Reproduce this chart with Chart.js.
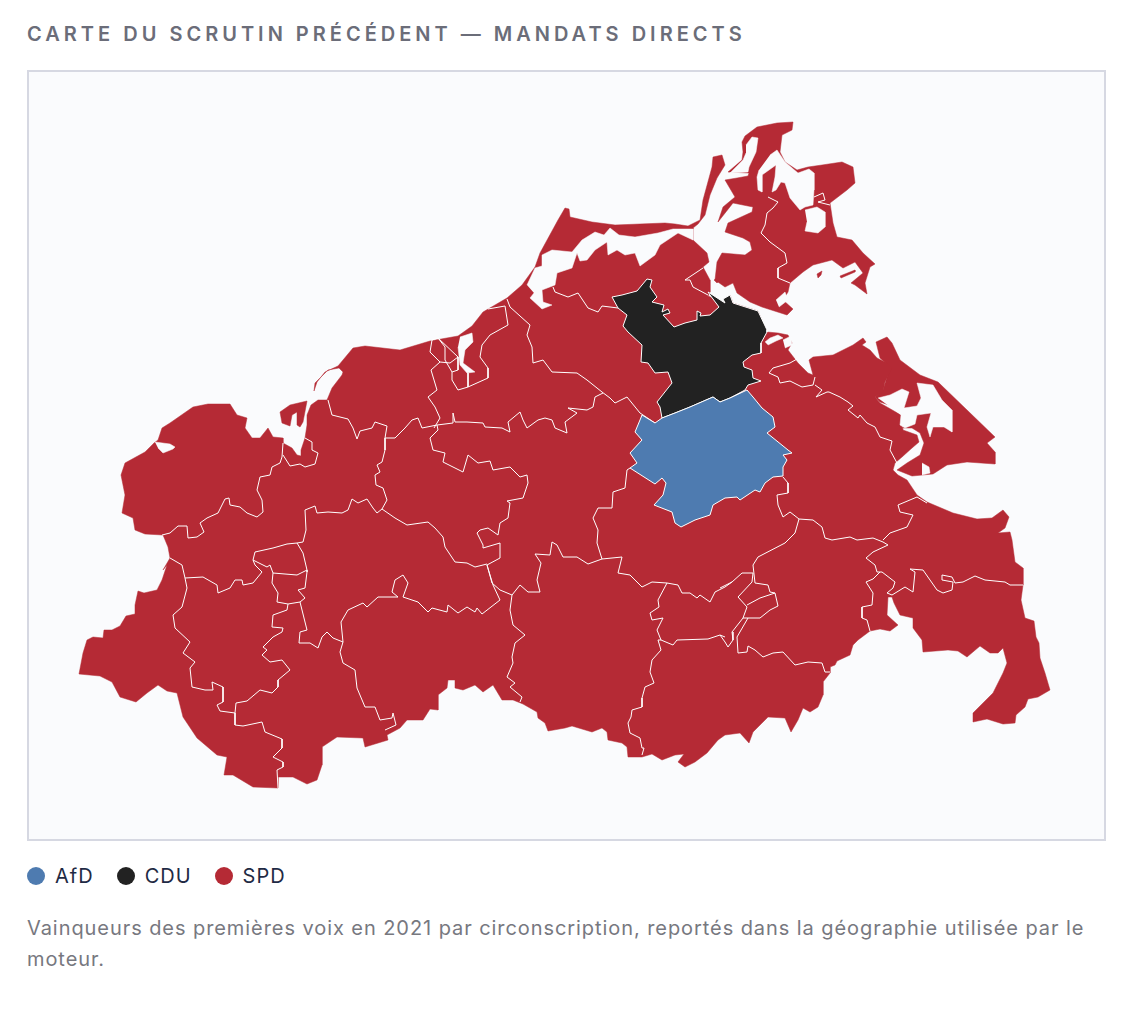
<!DOCTYPE html>
<html lang="fr">
<head>
  <meta charset="UTF-8" />
  <title>Carte du scrutin précédent</title>
  <script src="https://cdn.jsdelivr.net/npm/chart.js"></script>
  <style>
    body { margin: 0; background: #fff; font-family: Inter, "Open Sans", sans-serif; }
    .wrap { position: relative; width: 1140px; height: 1010px; }
    h2 {
      position: absolute; left: 27px; top: 21px; margin: 0;
      font-size: 20px; line-height: 26px; font-weight: 600; letter-spacing: 4px; color: #6b6d79; white-space: nowrap;
    }
    .frame {
      position: absolute; left: 27px; top: 70px; width: 1075px; height: 767px;
      border: 2px solid #d6d8e2; background: #fafbfd;
    }
    #legend { position: absolute; left: 27px; top: 864px; display: flex; font-size: 20px; line-height: 24px; letter-spacing: 1px; color: #1f2a44; }
    #legend span.item { display: flex; align-items: center; margin-right: 23px; }
    #legend i { width: 18px; height: 18px; border-radius: 50%; margin-right: 10px; display: block; }
    p {
      position: absolute; left: 27px; top: 913px; width: 1080px; margin: 0;
      font-size: 20px; line-height: 31px; color: #77787f; letter-spacing: 0.93px;
    }
  </style>
</head>
<body>
  <div class="wrap">
    <h2>CARTE DU SCRUTIN PRÉCÉDENT — MANDATS DIRECTS</h2>
    <div class="frame"><canvas id="map" width="1075" height="767"></canvas></div>
    <div id="legend"></div>
    <p>Vainqueurs des premières voix en 2021 par circonscription, reportés dans la géographie utilisée par le moteur.</p>
  </div>

  <script>
    const parties = ['AfD', 'CDU', 'SPD'];
    const partyColors = ['#4e7bb0', '#222222', '#b52a35'];
    const waterColor = '#fafbfd';

    // Map outlines (map units)
    const mainland = [[79,674],[83,653],[87,640],[93,637],[103,638],[104,630],[112,630],[120,626],[126,616],[135,614],[135,605],[138,591],[144,593],[157,590],[162,580],[167,565],[163,570],[170,558],[168,547],[163,535],[145,534],[135,530],[133,518],[122,513],[125,495],[121,475],[125,463],[145,452],[154,443],[158,440],[162,428],[170,423],[193,407],[208,404],[230,404],[237,415],[247,418],[245,428],[252,438],[260,438],[268,428],[273,437],[283,438],[283,443],[292,448],[297,455],[301,456],[301,450],[305,438],[307,425],[307,415],[311,405],[318,400],[327,400],[332,388],[342,375],[343,372],[339,368],[328,370],[319,379],[315,383],[314,391],[317,382],[325,372],[338,366],[353,348],[365,346],[400,350],[410,347],[430,341],[458,336],[472,326],[483,312],[507,298],[522,285],[535,267],[540,253],[558,220],[565,208],[569,209],[570,217],[592,222],[615,225],[665,223],[675,224],[688,226],[700,220],[703,200],[712,167],[713,157],[722,155],[725,165],[717,178],[710,195],[705,215],[698,224],[693,228],[693,240],[707,253],[709,262],[703,267],[710,280],[710,292],[708,296],[725,303],[730,295],[733,303],[758,311],[767,332],[778,333],[788,335],[792,343],[788,350],[798,363],[808,373],[813,375],[809,360],[813,357],[833,355],[853,345],[863,338],[866,342],[862,345],[870,350],[877,358],[887,363],[892,368],[885,382],[883,392],[875,397],[880,403],[901,415],[903,430],[917,435],[919,442],[912,448],[902,457],[895,463],[893,470],[898,475],[907,480],[917,495],[927,502],[953,513],[977,519],[992,518],[1003,510],[1009,517],[1005,528],[998,533],[1010,532],[1012,540],[1015,562],[1023,568],[1023,585],[1021,600],[1025,618],[1034,621],[1036,637],[1039,643],[1040,658],[1045,673],[1050,690],[1038,697],[1028,699],[1025,707],[1016,715],[1015,723],[1003,724],[987,719],[973,722],[973,713],[993,693],[1003,673],[1007,663],[1003,648],[998,653],[990,653],[980,646],[967,657],[958,651],[948,650],[923,652],[922,640],[913,628],[913,618],[900,615],[894,603],[892,597],[888,597],[887,615],[898,625],[890,631],[880,629],[870,631],[858,640],[853,645],[850,655],[837,661],[835,665],[830,667],[830,673],[823,682],[823,695],[818,707],[810,712],[803,708],[798,720],[791,732],[785,718],[768,717],[753,732],[749,743],[740,733],[725,735],[718,740],[707,753],[695,762],[685,767],[678,762],[684,754],[675,755],[662,760],[652,754],[642,757],[628,757],[627,747],[622,743],[608,740],[607,732],[602,728],[592,732],[572,726],[565,728],[548,731],[545,723],[538,718],[537,712],[523,704],[513,700],[502,700],[493,685],[483,692],[475,685],[463,690],[455,688],[455,680],[448,680],[447,688],[438,695],[438,710],[430,709],[423,720],[407,720],[400,728],[387,735],[388,740],[365,747],[363,738],[337,737],[322,747],[322,765],[317,780],[307,784],[293,777],[278,777],[278,788],[253,787],[233,775],[224,775],[227,757],[217,755],[197,738],[183,717],[177,693],[167,691],[158,685],[147,693],[136,702],[120,697],[112,682],[100,676],[79,674]];
    const ruegen = [[742,142],[745,136],[757,127],[777,123],[793,122],[792,130],[782,135],[780,152],[785,162],[797,170],[808,167],[822,165],[842,162],[853,167],[855,183],[847,190],[830,203],[833,223],[837,237],[852,240],[863,253],[875,264],[870,267],[865,283],[867,294],[855,285],[851,283],[863,273],[855,262],[843,268],[832,260],[813,265],[803,272],[790,283],[788,292],[783,300],[793,309],[787,315],[762,307],[750,302],[737,293],[733,283],[725,287],[715,280],[717,262],[722,253],[745,255],[752,250],[750,242],[743,238],[725,232],[728,223],[752,212],[753,207],[733,203],[718,222],[723,207],[735,197],[725,180],[737,178],[748,176],[749,173],[728,172],[742,160],[743,152],[742,142]];
    const usedom = [[876,342],[887,337],[892,343],[900,360],[920,375],[938,382],[995,437],[987,443],[995,452],[995,464],[967,462],[947,465],[933,474],[912,476],[897,470],[907,463],[920,455],[924,443],[920,433],[912,428],[903,428],[904,410],[880,402],[875,397],[883,390],[887,377],[890,367],[880,358],[876,342]];
    const poel = [[280,412],[290,405],[307,401],[303,422],[300,427],[297,425],[297,412],[292,415],[290,426],[282,423],[280,412]];
    const isletA = [[717,278],[720,280],[717,283],[714,280],[717,278]];
    const isletB = [[840,276],[855,270],[855,272],[841,278],[840,276]];
    const isletC = [[817,274],[822,271],[821,275],[818,278],[817,274]];

    // Lagoons and inlets
    const waterDarss = [[527,285],[535,268],[542,266],[542,255],[552,250],[572,252],[582,240],[595,232],[604,235],[610,228],[619,235],[635,237],[658,233],[673,229],[693,229],[693,240],[678,233],[660,245],[655,255],[640,266],[635,253],[625,255],[617,250],[608,255],[607,242],[595,250],[587,260],[580,261],[577,253],[572,268],[557,273],[555,285],[542,290],[543,302],[552,305],[542,309],[530,298],[534,293]];
    const waterWest = [[155,442],[170,444],[175,447],[173,449],[163,453],[158,448]];
    const waterRerik = [[460,337],[472,333],[473,342],[465,350],[463,363],[475,372],[467,373],[460,365],[458,347]];
    const waterWittow = [[746,145],[752,137],[758,138],[756,152],[749,167],[748,172],[730,173],[743,160],[746,153]];
    const waterJasmund = [[770,155],[777,150],[785,162],[798,173],[809,169],[814,173],[814,190],[813,205],[805,207],[800,210],[790,198],[785,183],[781,182],[776,190],[772,192],[775,177],[776,165],[762,175],[762,192],[758,190],[757,177],[759,170]];
    const waterLake = [[805,210],[817,207],[825,212],[825,227],[818,233],[805,231],[807,222]];
    const waterSouth = [[776,300],[785,292],[788,300],[779,307]];
    const waterPeene = [[878,398],[890,395],[902,389],[909,392],[904,408],[917,406],[921,398],[917,383],[933,385],[942,400],[952,410],[952,432],[944,427],[933,427],[930,437],[927,427],[931,413],[917,415],[915,424],[905,428],[900,425],[901,415]];
    const waterGap = [[922,463],[929,467],[930,473],[922,475]];
    const waterSmallA = [[765,342],[770,338],[778,335],[783,338],[776,341],[768,345]];
    const waterSmallB = [[783,340],[791,336],[792,345],[785,348]];

    // Districts that did not go to the SPD
    const districtAfD = [[640,420],[635,432],[642,440],[630,453],[637,463],[630,468],[655,484],[662,478],[666,483],[663,495],[654,505],[672,512],[675,523],[681,527],[695,520],[710,515],[713,505],[725,498],[737,497],[740,500],[755,490],[760,492],[765,483],[773,477],[783,476],[783,467],[787,460],[783,455],[792,453],[788,450],[767,433],[775,427],[773,417],[762,408],[753,397],[747,390],[730,398],[720,402],[713,397],[690,407],[675,413],[662,418],[655,423],[642,415],[640,420]];
    const districtCDU = [[647,279],[652,280],[650,287],[657,297],[652,302],[664,305],[662,312],[668,309],[670,313],[663,315],[674,327],[685,323],[697,320],[697,311],[701,313],[700,316],[710,315],[719,307],[710,295],[708,292],[725,303],[723,299],[730,295],[733,303],[758,311],[767,330],[767,332],[761,343],[761,353],[752,355],[743,362],[744,367],[752,370],[753,378],[761,381],[748,385],[745,390],[730,398],[720,402],[713,397],[690,407],[675,413],[662,418],[660,407],[657,402],[672,383],[668,372],[655,373],[648,363],[641,362],[642,345],[628,332],[623,326],[627,315],[618,308],[612,297],[622,295],[637,291],[647,279]];

    // Borders between SPD districts
    const borderA = [[283,443],[282,457],[280,463],[272,467],[270,475],[260,477],[257,490],[262,500],[263,512],[257,517],[247,513],[240,507],[230,505],[229,498],[225,499],[218,513],[207,518],[200,523],[204,532],[197,537],[188,538],[187,526],[178,526],[170,533],[162,535]];
    const borderB = [[283,455],[290,466],[300,464],[305,467],[315,464],[318,453],[312,450],[312,442],[305,438]];
    const borderC = [[328,400],[332,415],[340,417],[348,419],[353,428],[357,439],[360,431],[372,428],[375,422],[387,426],[385,438],[385,450],[382,462],[377,465],[380,472],[375,475],[376,485],[383,488],[387,500],[382,509]];
    const borderD = [[297,543],[303,542],[306,530],[305,510],[315,506],[317,513],[328,512],[342,513],[348,510],[352,499],[358,503],[367,499],[373,508],[377,513],[382,509],[395,518],[407,525],[428,522],[435,528],[443,537],[445,547],[455,562],[467,563],[475,567],[487,564]];
    const borderE = [[170,558],[182,565],[185,578],[187,588],[182,607],[173,615],[175,628],[190,642],[183,653],[195,662],[190,668],[192,687],[205,690],[213,690],[212,682],[223,687],[223,702],[217,705],[220,711],[235,713],[235,725],[243,726],[262,722],[265,732],[282,739],[282,748],[273,757],[283,762],[283,767],[277,770],[278,788]];
    const borderF = [[185,578],[203,577],[217,585],[218,593],[230,588],[235,580],[242,580],[243,585],[253,583],[262,572],[255,565],[253,560],[255,552],[273,548],[287,544],[297,543],[303,553],[307,570],[307,572],[305,588],[298,590],[305,598],[300,602],[288,604],[277,602],[278,593],[272,583],[273,573],[270,565],[267,567],[253,560]];
    const borderG = [[273,573],[297,575],[307,570]];
    const borderH = [[288,604],[287,610],[273,615],[272,627],[283,628],[282,632],[273,637],[263,647],[267,650],[262,655],[270,662],[282,660],[290,670],[278,680],[278,687],[272,693],[260,690],[247,701],[236,703],[235,713]];
    const borderI = [[300,602],[307,630],[300,632],[299,643],[310,643],[318,648],[322,637],[327,632],[333,638],[343,642],[340,652],[343,663],[355,670],[357,688],[365,707],[375,707],[380,720],[392,718],[393,713],[396,725],[385,730]];
    const borderJ = [[343,642],[341,622],[348,610],[363,603],[367,607],[378,597],[398,597],[392,592],[395,580],[403,575],[408,583],[403,597],[418,602],[428,612],[432,608],[447,612],[448,605],[458,613],[467,607],[475,612],[477,608],[482,614],[500,600],[493,585],[487,565]];
    const borderK = [[487,565],[492,583],[500,590],[512,595],[520,585],[528,592],[540,592],[537,580],[541,563],[535,554],[550,555],[552,542],[557,545],[563,557],[577,557],[588,564],[602,559],[597,543],[598,530],[593,518],[598,508],[612,508],[613,492],[625,488],[627,470],[630,468]];
    const borderL = [[487,565],[500,558],[500,543],[483,548],[483,545],[477,533],[480,530],[488,528],[498,535],[500,523],[508,518],[510,503],[507,501],[523,498],[528,483],[527,475],[520,477],[510,467],[493,470],[490,461],[478,463],[468,455],[463,472],[443,462],[445,453],[433,450],[430,438],[438,430],[437,425]];
    const borderM = [[507,299],[510,307],[530,325],[527,335],[532,347],[533,363],[543,360],[552,372],[577,373],[587,380],[602,392],[610,398],[615,403],[627,397],[640,413],[655,423]];
    const borderN = [[603,393],[595,397],[593,407],[587,410],[568,408],[577,413],[565,422],[567,433],[555,428],[552,420]];
    const borderO = [[385,438],[395,438],[405,428],[412,420],[418,418],[422,428],[437,425],[453,423],[453,413],[455,422],[467,422],[483,423],[485,427],[502,428],[510,432],[508,422],[520,412],[523,420],[527,428],[538,420],[545,418],[552,420]];
    const borderP = [[488,309],[505,306],[508,325],[490,335],[482,345],[480,357],[488,368],[488,378],[468,387],[458,390],[452,380],[452,372],[445,360],[445,347],[438,338],[458,357],[458,370],[452,372]];
    const borderQ = [[468,373],[468,387]];
    const borderR = [[430,352],[432,340],[438,338]];
    const borderS = [[430,352],[440,362],[431,370],[437,390],[428,397],[435,407],[440,418],[434,428]];
    const borderT = [[440,362],[450,363],[458,357]];
    const borderU = [[553,287],[555,292],[568,297],[578,293],[588,308],[598,312],[602,306],[618,308]];
    const borderV = [[708,295],[693,287],[690,280],[685,280],[703,268]];
    const borderW = [[797,359],[790,363],[773,368],[769,373],[778,377],[780,383],[790,381],[802,387],[813,385],[815,377]];
    const borderX = [[815,385],[822,390],[816,397],[827,392],[829,392],[840,397],[848,402],[853,406],[848,410],[858,418],[860,415],[867,423],[875,427],[880,437],[892,441],[890,450],[897,463]];
    const borderY = [[783,477],[788,483],[788,493],[777,495],[778,505],[783,517],[790,512],[799,519],[813,520],[822,527],[825,538],[832,540],[850,537],[857,540],[873,538],[883,542],[888,545],[873,552],[866,558],[875,565],[877,572],[882,572],[895,582],[893,588],[887,593],[892,595],[905,587],[913,592],[915,572],[910,569],[923,570],[937,590],[943,593],[952,590],[953,582],[942,580],[942,575],[952,577],[955,583],[963,582],[975,576],[985,580],[1005,582],[1010,585],[1023,585]];
    const borderZ = [[927,503],[917,497],[898,505],[900,512],[913,515],[907,527],[890,533],[883,540]];
    const borderAA = [[799,519],[795,533],[785,543],[758,557],[753,565],[755,583],[768,585],[770,592],[775,593],[778,606],[770,610],[760,618],[753,618],[743,618]];
    const borderAB = [[720,588],[732,582],[742,573],[753,573],[752,582],[738,597],[747,607],[743,618],[732,632],[733,640],[728,647],[725,642],[720,635]];
    const borderAC = [[747,605],[760,598],[775,593]];
    const borderAD = [[737,637],[738,653],[747,652],[748,646],[755,650],[763,657],[773,653],[783,652],[795,665],[808,662],[822,663],[825,672],[830,672]];
    const borderAE = [[737,637],[748,618]];
    const borderAF = [[667,583],[658,600],[659,607],[650,613],[652,620],[663,618],[657,630],[661,640],[658,640],[661,650],[652,660],[650,672],[654,683],[645,687],[642,698],[642,707],[632,710],[631,717],[628,723],[630,733],[640,738],[642,748],[644,748],[642,755]];
    const borderAG = [[661,640],[673,645],[677,640],[708,639],[720,635],[725,637]];
    const borderAH = [[602,559],[622,557],[618,573],[630,575],[642,587],[652,582],[667,583],[678,585],[682,593],[690,593],[697,598],[700,595],[710,602],[715,592],[725,587],[732,582]];
    const borderAI = [[512,595],[510,610],[513,625],[525,635],[515,643],[512,657],[513,663],[507,677],[515,683],[510,687],[522,697],[520,702]];
    const borderAJ = [[880,572],[873,579],[866,582],[873,593],[872,605],[862,607],[862,618],[867,620],[870,631]];
    const borderAK = [[768,197],[778,202],[773,208],[767,213],[765,225],[761,233],[770,242],[785,253],[787,263],[778,268],[778,278],[790,283]];
    const borderAL = [[814,197],[823,193],[825,200],[818,202],[830,205]];

    const landShapes = [mainland, ruegen, usedom, poel, isletA, isletB, isletC];
    const waterShapes = [waterDarss, waterWest, waterRerik, waterWittow, waterJasmund, waterLake, waterSouth, waterPeene, waterGap, waterSmallA, waterSmallB];
    const borders = [borderA, borderB, borderC, borderD, borderE, borderF, borderG, borderH, borderI, borderJ, borderK, borderL, borderM, borderN, borderO, borderP, borderQ, borderR, borderS, borderT, borderU, borderV, borderW, borderX, borderY, borderZ, borderAA, borderAB, borderAC, borderAD, borderAE, borderAF, borderAG, borderAH, borderAI, borderAJ, borderAK, borderAL];

    function toPoints(list) {
      return list.map(p => ({ x: p[0], y: p[1] }));
    }

    function shape(list, color, order, lineColor) {
      return {
        data: toPoints(list), showLine: true, pointRadius: 0, tension: 0, order: order,
        fill: 'shape', backgroundColor: color, borderColor: lineColor, borderWidth: lineColor === color ? 0.5 : 1
      };
    }

    // lower order is painted last, so districts sit over borders, water and land
    const datasets = [];
    landShapes.forEach(s => datasets.push(shape(s, partyColors[2], 40, partyColors[2])));
    waterShapes.forEach(s => datasets.push(shape(s, waterColor, 30, waterColor)));
    borders.forEach(b => datasets.push({
      data: toPoints(b), showLine: true, pointRadius: 0, tension: 0, order: 20,
      fill: false, borderColor: '#ffffff', borderWidth: 1, borderJoinStyle: 'round'
    }));
    datasets.push(shape(districtCDU, partyColors[1], 11, '#ffffff'));
    datasets.push(shape(districtAfD, partyColors[0], 10, '#ffffff'));

    new Chart(document.getElementById('map'), {
      type: 'scatter',
      data: { datasets: datasets },
      options: {
        responsive: false,
        animation: false,
        layout: { padding: 0 },
        plugins: { legend: { display: false }, tooltip: { enabled: false } },
        scales: {
          x: { type: 'linear', min: 29, max: 1104, display: false },
          y: { type: 'linear', min: 72, max: 839, reverse: true, display: false }
        }
      }
    });

    const legend = document.getElementById('legend');
    parties.forEach((name, i) => {
      const item = document.createElement('span');
      item.className = 'item';
      item.innerHTML = `<i style="background:${partyColors[i]}"></i>${name}`;
      legend.appendChild(item);
    });
  </script>
</body>
</html>
